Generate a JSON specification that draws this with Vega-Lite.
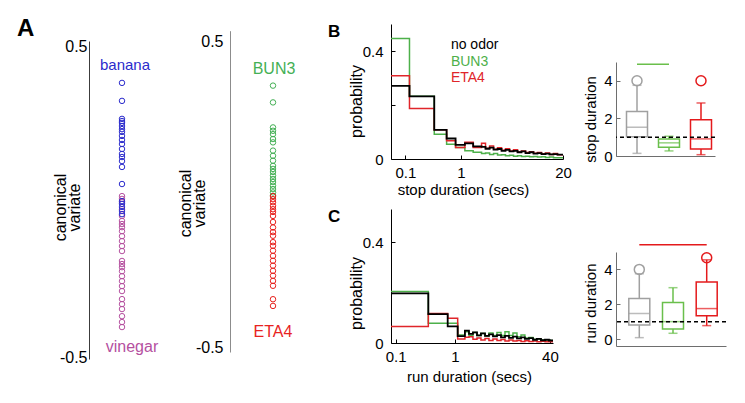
{
  "$schema": "https://vega.github.io/schema/vega-lite/v6.json",
  "background": "white",
  "padding": {"left": 17, "top": 17, "right": 5, "bottom": 5},
  "bounds": "flush",
  "spacing": 75,
  "resolve": {"scale": {"color": "independent", "stroke": "independent"}},
  "config": {
    "view": {"stroke": null},
    "font": "Liberation Sans",
    "axis": {"grid": false, "domainColor": "#000", "tickColor": "#000", "labelColor": "#000", "titleColor": "#000", "titleFontWeight": "normal", "labelFont": "Liberation Sans", "titleFont": "Liberation Sans", "labelFlush": false, "labelOverlap": false, "labelBound": false},
    "title": {"font": "Liberation Sans", "fontWeight": "bold", "color": "#000", "anchor": "start", "frame": "group", "baseline": "alphabetic", "offset": 0}
  },
  "datasets": {
    "bh": [
      {"t": 0.02, "p": 0.446, "odor": "BUN3"}, {"t": 0.129, "p": 0.232, "odor": "BUN3"}, {"t": 0.40, "p": 0.092, "odor": "BUN3"}, {"t": 0.624, "p": 0.055, "odor": "BUN3"}, {"t": 0.843, "p": 0.043, "odor": "BUN3"}, {"t": 1.137, "p": 0.031, "odor": "BUN3"}, {"t": 1.472, "p": 0.025, "odor": "BUN3"}, {"t": 1.90, "p": 0.02, "odor": "BUN3"}, {"t": 2.14, "p": 0.022, "odor": "BUN3"}, {"t": 2.42, "p": 0.017, "odor": "BUN3"}, {"t": 2.72, "p": 0.02, "odor": "BUN3"}, {"t": 3.06, "p": 0.015, "odor": "BUN3"}, {"t": 3.44, "p": 0.016, "odor": "BUN3"}, {"t": 3.86, "p": 0.012, "odor": "BUN3"}, {"t": 4.34, "p": 0.014, "odor": "BUN3"}, {"t": 4.87, "p": 0.01, "odor": "BUN3"}, {"t": 5.47, "p": 0.012, "odor": "BUN3"}, {"t": 6.13, "p": 0.009, "odor": "BUN3"}, {"t": 6.88, "p": 0.01, "odor": "BUN3"}, {"t": 7.72, "p": 0.008, "odor": "BUN3"}, {"t": 8.65, "p": 0.009, "odor": "BUN3"}, {"t": 9.69, "p": 0.007, "odor": "BUN3"}, {"t": 10.86, "p": 0.008, "odor": "BUN3"}, {"t": 12.17, "p": 0.006, "odor": "BUN3"}, {"t": 13.63, "p": 0.007, "odor": "BUN3"}, {"t": 15.27, "p": 0.005, "odor": "BUN3"}, {"t": 17.1, "p": 0.005, "odor": "BUN3"}, {"t": 20, "p": 0.005, "odor": "BUN3"},
      {"t": 0.02, "p": 0.308, "odor": "ETA4"}, {"t": 0.129, "p": 0.187, "odor": "ETA4"}, {"t": 0.40, "p": 0.108, "odor": "ETA4"}, {"t": 0.624, "p": 0.068, "odor": "ETA4"}, {"t": 0.843, "p": 0.043, "odor": "ETA4"}, {"t": 1.137, "p": 0.062, "odor": "ETA4"}, {"t": 1.472, "p": 0.043, "odor": "ETA4"}, {"t": 1.90, "p": 0.058, "odor": "ETA4"}, {"t": 2.14, "p": 0.04, "odor": "ETA4"}, {"t": 2.42, "p": 0.048, "odor": "ETA4"}, {"t": 2.72, "p": 0.036, "odor": "ETA4"}, {"t": 3.06, "p": 0.042, "odor": "ETA4"}, {"t": 3.44, "p": 0.032, "odor": "ETA4"}, {"t": 3.86, "p": 0.038, "odor": "ETA4"}, {"t": 4.34, "p": 0.03, "odor": "ETA4"}, {"t": 4.87, "p": 0.034, "odor": "ETA4"}, {"t": 5.47, "p": 0.026, "odor": "ETA4"}, {"t": 6.13, "p": 0.03, "odor": "ETA4"}, {"t": 6.88, "p": 0.024, "odor": "ETA4"}, {"t": 7.72, "p": 0.027, "odor": "ETA4"}, {"t": 8.65, "p": 0.021, "odor": "ETA4"}, {"t": 9.69, "p": 0.024, "odor": "ETA4"}, {"t": 10.86, "p": 0.019, "odor": "ETA4"}, {"t": 12.17, "p": 0.022, "odor": "ETA4"}, {"t": 13.63, "p": 0.017, "odor": "ETA4"}, {"t": 15.27, "p": 0.02, "odor": "ETA4"}, {"t": 17.1, "p": 0.016, "odor": "ETA4"}, {"t": 20, "p": 0.016, "odor": "ETA4"},
      {"t": 0.02, "p": 0.271, "odor": "no odor"}, {"t": 0.129, "p": 0.232, "odor": "no odor"}, {"t": 0.40, "p": 0.108, "odor": "no odor"}, {"t": 0.624, "p": 0.076, "odor": "no odor"}, {"t": 0.843, "p": 0.052, "odor": "no odor"}, {"t": 1.137, "p": 0.058, "odor": "no odor"}, {"t": 1.472, "p": 0.047, "odor": "no odor"}, {"t": 1.90, "p": 0.045, "odor": "no odor"}, {"t": 2.14, "p": 0.038, "odor": "no odor"}, {"t": 2.42, "p": 0.042, "odor": "no odor"}, {"t": 2.72, "p": 0.035, "odor": "no odor"}, {"t": 3.06, "p": 0.037, "odor": "no odor"}, {"t": 3.44, "p": 0.03, "odor": "no odor"}, {"t": 3.86, "p": 0.034, "odor": "no odor"}, {"t": 4.34, "p": 0.028, "odor": "no odor"}, {"t": 4.87, "p": 0.03, "odor": "no odor"}, {"t": 5.47, "p": 0.025, "odor": "no odor"}, {"t": 6.13, "p": 0.028, "odor": "no odor"}, {"t": 6.88, "p": 0.022, "odor": "no odor"}, {"t": 7.72, "p": 0.025, "odor": "no odor"}, {"t": 8.65, "p": 0.02, "odor": "no odor"}, {"t": 9.69, "p": 0.022, "odor": "no odor"}, {"t": 10.86, "p": 0.018, "odor": "no odor"}, {"t": 12.17, "p": 0.02, "odor": "no odor"}, {"t": 13.63, "p": 0.017, "odor": "no odor"}, {"t": 15.27, "p": 0.018, "odor": "no odor"}, {"t": 17.1, "p": 0.016, "odor": "no odor"}, {"t": 20, "p": 0.016, "odor": "no odor"}
    ],
    "ch": [
      {"t": 0.0833, "p": 0.204, "odor": "BUN3"}, {"t": 0.355, "p": 0.078, "odor": "BUN3"}, {"t": 0.753, "p": 0.078, "odor": "BUN3"}, {"t": 1.11, "p": 0.032, "odor": "BUN3"}, {"t": 1.47, "p": 0.045, "odor": "BUN3"}, {"t": 1.72, "p": 0.03, "odor": "BUN3"}, {"t": 2.01, "p": 0.042, "odor": "BUN3"}, {"t": 2.35, "p": 0.03, "odor": "BUN3"}, {"t": 2.74, "p": 0.038, "odor": "BUN3"}, {"t": 3.21, "p": 0.028, "odor": "BUN3"}, {"t": 3.74, "p": 0.04, "odor": "BUN3"}, {"t": 4.37, "p": 0.03, "odor": "BUN3"}, {"t": 5.11, "p": 0.042, "odor": "BUN3"}, {"t": 5.97, "p": 0.03, "odor": "BUN3"}, {"t": 6.97, "p": 0.045, "odor": "BUN3"}, {"t": 8.14, "p": 0.03, "odor": "BUN3"}, {"t": 9.51, "p": 0.04, "odor": "BUN3"}, {"t": 11.1, "p": 0.025, "odor": "BUN3"}, {"t": 13.0, "p": 0.032, "odor": "BUN3"}, {"t": 15.1, "p": 0.02, "odor": "BUN3"}, {"t": 17.7, "p": 0.022, "odor": "BUN3"}, {"t": 20.7, "p": 0.015, "odor": "BUN3"}, {"t": 24.1, "p": 0.016, "odor": "BUN3"}, {"t": 28.2, "p": 0.012, "odor": "BUN3"}, {"t": 33.0, "p": 0.012, "odor": "BUN3"}, {"t": 38.5, "p": 0.01, "odor": "BUN3"}, {"t": 45, "p": 0.01, "odor": "BUN3"},
      {"t": 0.0833, "p": 0.066, "odor": "ETA4"}, {"t": 0.355, "p": 0.117, "odor": "ETA4"}, {"t": 0.753, "p": 0.098, "odor": "ETA4"}, {"t": 1.11, "p": 0.016, "odor": "ETA4"}, {"t": 1.47, "p": 0.023, "odor": "ETA4"}, {"t": 1.72, "p": 0.025, "odor": "ETA4"}, {"t": 2.01, "p": 0.015, "odor": "ETA4"}, {"t": 2.35, "p": 0.02, "odor": "ETA4"}, {"t": 2.74, "p": 0.012, "odor": "ETA4"}, {"t": 3.21, "p": 0.018, "odor": "ETA4"}, {"t": 3.74, "p": 0.01, "odor": "ETA4"}, {"t": 4.37, "p": 0.016, "odor": "ETA4"}, {"t": 5.11, "p": 0.01, "odor": "ETA4"}, {"t": 5.97, "p": 0.014, "odor": "ETA4"}, {"t": 6.97, "p": 0.008, "odor": "ETA4"}, {"t": 8.14, "p": 0.012, "odor": "ETA4"}, {"t": 9.51, "p": 0.008, "odor": "ETA4"}, {"t": 11.1, "p": 0.01, "odor": "ETA4"}, {"t": 13.0, "p": 0.006, "odor": "ETA4"}, {"t": 15.1, "p": 0.009, "odor": "ETA4"}, {"t": 17.7, "p": 0.006, "odor": "ETA4"}, {"t": 20.7, "p": 0.008, "odor": "ETA4"}, {"t": 24.1, "p": 0.005, "odor": "ETA4"}, {"t": 28.2, "p": 0.007, "odor": "ETA4"}, {"t": 33.0, "p": 0.005, "odor": "ETA4"}, {"t": 38.5, "p": 0.005, "odor": "ETA4"}, {"t": 45, "p": 0.005, "odor": "ETA4"},
      {"t": 0.0833, "p": 0.197, "odor": "no odor"}, {"t": 0.355, "p": 0.115, "odor": "no odor"}, {"t": 0.753, "p": 0.066, "odor": "no odor"}, {"t": 1.11, "p": 0.027, "odor": "no odor"}, {"t": 1.47, "p": 0.049, "odor": "no odor"}, {"t": 1.72, "p": 0.036, "odor": "no odor"}, {"t": 2.01, "p": 0.042, "odor": "no odor"}, {"t": 2.35, "p": 0.03, "odor": "no odor"}, {"t": 2.74, "p": 0.038, "odor": "no odor"}, {"t": 3.21, "p": 0.028, "odor": "no odor"}, {"t": 3.74, "p": 0.034, "odor": "no odor"}, {"t": 4.37, "p": 0.026, "odor": "no odor"}, {"t": 5.11, "p": 0.031, "odor": "no odor"}, {"t": 5.97, "p": 0.022, "odor": "no odor"}, {"t": 6.97, "p": 0.028, "odor": "no odor"}, {"t": 8.14, "p": 0.02, "odor": "no odor"}, {"t": 9.51, "p": 0.025, "odor": "no odor"}, {"t": 11.1, "p": 0.018, "odor": "no odor"}, {"t": 13.0, "p": 0.022, "odor": "no odor"}, {"t": 15.1, "p": 0.016, "odor": "no odor"}, {"t": 17.7, "p": 0.019, "odor": "no odor"}, {"t": 20.7, "p": 0.013, "odor": "no odor"}, {"t": 24.1, "p": 0.016, "odor": "no odor"}, {"t": 28.2, "p": 0.011, "odor": "no odor"}, {"t": 33.0, "p": 0.013, "odor": "no odor"}, {"t": 38.5, "p": 0.01, "odor": "no odor"}, {"t": 45, "p": 0.01, "odor": "no odor"}
    ],
    "bbox": [
      {"odor": "no odor", "lo": 0.14, "q1": 1.03, "med": 1.53, "q3": 2.37, "hi": 3.76},
      {"odor": "BUN3", "lo": 0.27, "q1": 0.47, "med": 0.70, "q3": 0.91, "hi": 1.05},
      {"odor": "ETA4", "lo": 0.07, "q1": 0.37, "med": 0.91, "q3": 1.93, "hi": 2.82}
    ],
    "bout": [{"odor": "no odor", "v": 4.0}, {"odor": "ETA4", "v": 4.0}],
    "cbox": [
      {"odor": "no odor", "lo": 0.08, "q1": 0.80, "med": 1.47, "q3": 2.33, "hi": 3.75},
      {"odor": "BUN3", "lo": 0.33, "q1": 0.57, "med": 1.0, "q3": 2.10, "hi": 2.95},
      {"odor": "ETA4", "lo": 0.77, "q1": 1.34, "med": 1.75, "q3": 3.28, "hi": 4.55}
    ],
    "cout": [{"odor": "no odor", "v": 4.0}, {"odor": "ETA4", "v": 4.67}]
  },
  "hconcat": [
    {
      "width": 66, "height": 335,
      "title": {"text": "A", "fontSize": 24, "dx": -72, "dy": 21},
      "data": {"values": [
        {"v": 0.384, "odor": "banana"}, {"v": 0.326, "odor": "banana"}, {"v": 0.268, "odor": "banana"}, {"v": 0.261, "odor": "banana"}, {"v": 0.255, "odor": "banana"}, {"v": 0.245, "odor": "banana"}, {"v": 0.235, "odor": "banana"}, {"v": 0.226, "odor": "banana"}, {"v": 0.213, "odor": "banana"}, {"v": 0.200, "odor": "banana"}, {"v": 0.187, "odor": "banana"}, {"v": 0.171, "odor": "banana"}, {"v": 0.155, "odor": "banana"}, {"v": 0.145, "odor": "banana"}, {"v": 0.132, "odor": "banana"}, {"v": 0.113, "odor": "banana"}, {"v": 0.058, "odor": "banana"},
        {"v": 0.019, "odor": "vinegar"}, {"v": 0.010, "odor": "vinegar"}, {"v": 0.000, "odor": "vinegar"}, {"v": -0.023, "odor": "vinegar"}, {"v": -0.045, "odor": "vinegar"}, {"v": -0.061, "odor": "vinegar"}, {"v": -0.071, "odor": "vinegar"}, {"v": -0.081, "odor": "vinegar"}, {"v": -0.094, "odor": "vinegar"}, {"v": -0.110, "odor": "vinegar"}, {"v": -0.126, "odor": "vinegar"}, {"v": -0.142, "odor": "vinegar"}, {"v": -0.158, "odor": "vinegar"}, {"v": -0.190, "odor": "vinegar"}, {"v": -0.200, "odor": "vinegar"}, {"v": -0.210, "odor": "vinegar"}, {"v": -0.223, "odor": "vinegar"}, {"v": -0.239, "odor": "vinegar"}, {"v": -0.255, "odor": "vinegar"}, {"v": -0.271, "odor": "vinegar"}, {"v": -0.287, "odor": "vinegar"}, {"v": -0.313, "odor": "vinegar"}, {"v": -0.329, "odor": "vinegar"}, {"v": -0.345, "odor": "vinegar"}, {"v": -0.368, "odor": "vinegar"}, {"v": -0.387, "odor": "vinegar"}, {"v": -0.403, "odor": "vinegar"},
        {"v": 0.003, "odor": "banana"}, {"v": -0.006, "odor": "banana"}, {"v": -0.016, "odor": "banana"}, {"v": -0.029, "odor": "banana"}, {"v": -0.039, "odor": "banana"}
      ]},
      "layer": [
        {
          "mark": {"type": "point", "filled": false, "size": 30, "strokeWidth": 1, "opacity": 1},
          "encoding": {
            "y": {"field": "v", "type": "quantitative", "scale": {"domain": [-0.506, 0.519], "range": [335, 17], "nice": false, "zero": false},
              "axis": {"values": [-0.5, 0.5], "labelExpr": "datum.value < 0 ? '-0.5' : '0.5'", "ticks": false, "domainColor": "#3c3c3c", "labelFontSize": 16, "labelPadding": 2, "title": ["canonical", "variate"], "titleFontSize": 16, "titleLineHeight": 14, "titlePadding": -23, "titleY": 183}},
            "color": {"field": "odor", "type": "nominal", "scale": {"domain": ["banana", "vinegar"], "range": ["#2b2bcc", "#b5509f"]}, "legend": null}
          }
        },
        {"data": {"values": [{"label": "banana"}]}, "mark": {"type": "text", "fontSize": 15, "color": "#2b2bcc", "baseline": "alphabetic", "dx": 3}, "encoding": {"y": {"datum": 0.426}, "text": {"field": "label"}}},
        {"data": {"values": [{"label": "vinegar"}]}, "mark": {"type": "text", "fontSize": 16, "color": "#b5509f", "baseline": "alphabetic", "dx": 10}, "encoding": {"y": {"datum": -0.485}, "text": {"field": "label"}}}
      ]
    },
    {
      "width": 86, "height": 328,
      "data": {"values": [
        {"v": 0.357, "odor": "BUN3"}, {"v": 0.302, "odor": "BUN3"}, {"v": 0.220, "odor": "BUN3"}, {"v": 0.209, "odor": "BUN3"}, {"v": 0.198, "odor": "BUN3"}, {"v": 0.182, "odor": "BUN3"}, {"v": 0.171, "odor": "BUN3"}, {"v": 0.144, "odor": "BUN3"}, {"v": 0.127, "odor": "BUN3"}, {"v": 0.111, "odor": "BUN3"}, {"v": 0.094, "odor": "BUN3"}, {"v": 0.084, "odor": "BUN3"}, {"v": 0.074, "odor": "BUN3"}, {"v": 0.062, "odor": "BUN3"}, {"v": 0.051, "odor": "BUN3"}, {"v": 0.041, "odor": "BUN3"}, {"v": 0.029, "odor": "BUN3"}, {"v": 0.018, "odor": "BUN3"}, {"v": 0.007, "odor": "BUN3"}, {"v": -0.004, "odor": "BUN3"},
        {"v": -0.005, "odor": "ETA4"}, {"v": -0.015, "odor": "ETA4"}, {"v": -0.025, "odor": "ETA4"}, {"v": -0.037, "odor": "ETA4"}, {"v": -0.048, "odor": "ETA4"}, {"v": -0.057, "odor": "ETA4"}, {"v": -0.070, "odor": "ETA4"}, {"v": -0.090, "odor": "ETA4"}, {"v": -0.108, "odor": "ETA4"}, {"v": -0.123, "odor": "ETA4"}, {"v": -0.135, "odor": "ETA4"}, {"v": -0.156, "odor": "ETA4"}, {"v": -0.168, "odor": "ETA4"}, {"v": -0.184, "odor": "ETA4"}, {"v": -0.201, "odor": "ETA4"}, {"v": -0.217, "odor": "ETA4"}, {"v": -0.233, "odor": "ETA4"}, {"v": -0.250, "odor": "ETA4"}, {"v": -0.266, "odor": "ETA4"}, {"v": -0.283, "odor": "ETA4"}, {"v": -0.299, "odor": "ETA4"}, {"v": -0.343, "odor": "ETA4"}, {"v": -0.365, "odor": "ETA4"}
      ]},
      "layer": [
        {
          "mark": {"type": "point", "filled": false, "size": 30, "strokeWidth": 1, "opacity": 1},
          "encoding": {
            "y": {"field": "v", "type": "quantitative", "scale": {"domain": [-0.516, 0.537], "range": [328, 6.7], "nice": false, "zero": false},
              "axis": {"values": [-0.5, 0.5], "labelExpr": "datum.value < 0 ? '-0.5' : '0.5'", "ticks": false, "domainColor": "#8c8c8c", "labelFontSize": 16, "labelPadding": 7, "title": ["canonical", "variate"], "titleFontSize": 16, "titleLineHeight": 14, "titlePadding": -12, "titleY": 179}},
            "color": {"field": "odor", "type": "nominal", "scale": {"domain": ["BUN3", "ETA4"], "range": ["#44b055", "#e8231f"]}, "legend": null}
          }
        },
        {"data": {"values": [{"label": "BUN3"}]}, "mark": {"type": "text", "fontSize": 16, "color": "#44b055", "baseline": "alphabetic", "dx": 1}, "encoding": {"y": {"datum": 0.395}, "text": {"field": "label"}}},
        {"data": {"values": [{"label": "ETA4"}]}, "mark": {"type": "text", "fontSize": 16, "color": "#e8231f", "baseline": "alphabetic", "dx": 0}, "encoding": {"y": {"datum": -0.467}, "text": {"field": "label"}}}
      ]
    },
    {
      "bounds": "flush",
      "columns": 2,
      "spacing": {"row": 50, "column": 53},
      "resolve": {"scale": {"color": "independent", "stroke": "independent"}},
      "concat": [
        {
          "width": 172, "height": 135,
          "title": {"text": "B", "fontSize": 17, "dx": -63, "dy": 21},
          "layer": [
            {"data": {"name": "bh"}, "transform": [{"filter": "datum.odor == 'BUN3'"}], "mark": {"type": "line", "interpolate": "step-after", "color": "#4db04a", "strokeWidth": 1.5},
              "encoding": {
                "x": {"field": "t", "type": "quantitative", "scale": {"type": "symlog", "constant": 0.14, "domain": [0.02, 20], "nice": false, "zero": false},
                  "axis": {"values": [0.1, 1, 20], "format": "~g", "tickSize": -4, "labelPadding": 10, "labelFontSize": 15, "title": "stop duration (secs)", "titleFontSize": 15, "titlePadding": 2, "titleX": 72}},
                "y": {"field": "p", "type": "quantitative", "scale": {"domain": [0, 0.5], "nice": false},
                  "axis": {"values": [0, 0.2, 0.4], "format": "~g", "labelExpr": "datum.value == 0.2 ? '' : datum.label", "tickSize": -4, "labelPadding": 12, "labelFontSize": 15, "title": "probability", "titleFontSize": 16, "titlePadding": -2, "titleY": 77}}
              }},
            {"data": {"name": "bh"}, "transform": [{"filter": "datum.odor == 'ETA4'"}], "mark": {"type": "line", "interpolate": "step-after", "color": "#e0252a", "strokeWidth": 1.5},
              "encoding": {"x": {"field": "t", "type": "quantitative"}, "y": {"field": "p", "type": "quantitative"}}},
            {"data": {"name": "bh"}, "transform": [{"filter": "datum.odor == 'no odor'"}], "mark": {"type": "line", "interpolate": "step-after", "color": "#000000", "strokeWidth": 1.8},
              "encoding": {"x": {"field": "t", "type": "quantitative"}, "y": {"field": "p", "type": "quantitative"}}},
            {"data": {"values": [{"label": "no odor"}]}, "mark": {"type": "text", "fontSize": 14, "color": "#000", "align": "left", "baseline": "alphabetic"}, "encoding": {"x": {"datum": 0.722, "type": "quantitative"}, "y": {"datum": 0.407, "type": "quantitative"}, "text": {"field": "label", "type": "nominal"}}},
            {"data": {"values": [{"label": "BUN3"}]}, "mark": {"type": "text", "fontSize": 14, "color": "#4db04a", "align": "left", "baseline": "alphabetic"}, "encoding": {"x": {"datum": 0.722, "type": "quantitative"}, "y": {"datum": 0.346, "type": "quantitative"}, "text": {"field": "label", "type": "nominal"}}},
            {"data": {"values": [{"label": "ETA4"}]}, "mark": {"type": "text", "fontSize": 14, "color": "#e0252a", "align": "left", "baseline": "alphabetic"}, "encoding": {"x": {"datum": 0.722, "type": "quantitative"}, "y": {"datum": 0.284, "type": "quantitative"}, "text": {"field": "label", "type": "nominal"}}}
          ]
        },
        {
          "width": 99, "height": 132,
          "layer": [
            {"data": {"name": "bbox"}, "mark": {"type": "rule", "strokeWidth": 1.5}, "encoding": {
              "x": {"field": "odor", "type": "nominal", "scale": {"type": "point", "domain": ["no odor", "BUN3", "ETA4"], "padding": 0.547, "align": 0.6}, "axis": {"labels": false, "ticks": false, "title": null, "domainColor": "#6e6e6e"}},
              "y": {"field": "lo", "type": "quantitative", "scale": {"domain": [0, 5], "range": [132, 38], "nice": false}, "axis": {"values": [0, 2, 4], "tickSize": -4, "labelPadding": 8, "labelFontSize": 15, "domainColor": "#6e6e6e", "tickColor": "#6e6e6e", "title": "stop duration", "titleFontSize": 15, "titlePadding": 5, "titleY": 95}},
              "y2": {"field": "q1"},
              "color": {"field": "odor", "type": "nominal", "scale": {"domain": ["no odor", "BUN3", "ETA4"], "range": ["#a0a0a0", "#6abf4b", "#e41a1c"]}, "legend": null}}},
            {"data": {"name": "bbox"}, "mark": {"type": "rule", "strokeWidth": 1.5}, "encoding": {"x": {"field": "odor", "type": "nominal"}, "y": {"field": "q3", "type": "quantitative"}, "y2": {"field": "hi"}, "color": {"field": "odor", "type": "nominal"}}},
            {"data": {"name": "bbox"}, "mark": {"type": "tick", "size": 9, "thickness": 1.5}, "encoding": {"x": {"field": "odor", "type": "nominal"}, "y": {"field": "lo", "type": "quantitative"}, "color": {"field": "odor", "type": "nominal"}}},
            {"data": {"name": "bbox"}, "mark": {"type": "tick", "size": 9, "thickness": 1.5}, "encoding": {"x": {"field": "odor", "type": "nominal"}, "y": {"field": "hi", "type": "quantitative"}, "color": {"field": "odor", "type": "nominal"}}},
            {"data": {"name": "bbox"}, "mark": {"type": "bar", "size": 21, "fill": "white", "strokeWidth": 1.5}, "encoding": {"x": {"field": "odor", "type": "nominal"}, "y": {"field": "q1", "type": "quantitative"}, "y2": {"field": "q3"}, "stroke": {"field": "odor", "type": "nominal", "scale": {"domain": ["no odor", "BUN3", "ETA4"], "range": ["#a0a0a0", "#6abf4b", "#e41a1c"]}, "legend": null}}},
            {"data": {"name": "bbox"}, "mark": {"type": "tick", "size": 21, "thickness": 1.5}, "encoding": {"x": {"field": "odor", "type": "nominal"}, "y": {"field": "med", "type": "quantitative"}, "color": {"field": "odor", "type": "nominal"}}},
            {"data": {"name": "bout"}, "mark": {"type": "point", "filled": false, "size": 100, "strokeWidth": 1.5, "opacity": 1}, "encoding": {"x": {"field": "odor", "type": "nominal"}, "y": {"field": "v", "type": "quantitative"}, "color": {"field": "odor", "type": "nominal"}}},
            {"data": {"values": [{}]}, "mark": {"type": "rule", "color": "#000", "strokeWidth": 1.5, "strokeDash": [4, 3]}, "encoding": {"y": {"datum": 1, "type": "quantitative"}}},
            {"data": {"values": [{}]}, "mark": {"type": "rule", "color": "#6abf4b", "strokeWidth": 1.5}, "encoding": {"x": {"datum": "no odor", "type": "nominal"}, "x2": {"datum": "BUN3"}, "y": {"datum": 4.88, "type": "quantitative"}}}
          ]
        },
        {
          "width": 162, "height": 134,
          "title": {"text": "C", "fontSize": 17, "dx": -63, "dy": 21},
          "layer": [
            {"data": {"name": "ch"}, "transform": [{"filter": "datum.odor == 'BUN3'"}], "mark": {"type": "line", "interpolate": "step-after", "color": "#4db04a", "strokeWidth": 1.5},
              "encoding": {
                "x": {"field": "t", "type": "quantitative", "scale": {"type": "log", "domain": [0.0833, 45], "nice": false},
                  "axis": {"values": [0.1, 1, 40], "format": "~g", "tickSize": -4, "labelPadding": 10, "labelFontSize": 15, "title": "run duration (secs)", "titleFontSize": 15, "titlePadding": 5, "titleX": 78}},
                "y": {"field": "p", "type": "quantitative", "scale": {"domain": [0, 0.532], "nice": false},
                  "axis": {"values": [0, 0.2, 0.4], "format": "~g", "labelExpr": "datum.value == 0.2 ? '' : datum.label", "tickSize": -4, "labelPadding": 12, "labelFontSize": 15, "title": "probability", "titleFontSize": 16, "titlePadding": -2, "titleY": 84}}
              }},
            {"data": {"name": "ch"}, "transform": [{"filter": "datum.odor == 'ETA4'"}], "mark": {"type": "line", "interpolate": "step-after", "color": "#e0252a", "strokeWidth": 1.5},
              "encoding": {"x": {"field": "t", "type": "quantitative"}, "y": {"field": "p", "type": "quantitative"}}},
            {"data": {"name": "ch"}, "transform": [{"filter": "datum.odor == 'no odor'"}], "mark": {"type": "line", "interpolate": "step-after", "color": "#000000", "strokeWidth": 1.8},
              "encoding": {"x": {"field": "t", "type": "quantitative"}, "y": {"field": "p", "type": "quantitative"}}}
          ]
        },
        {
          "width": 110, "height": 137,
          "layer": [
            {"data": {"name": "cbox"}, "mark": {"type": "rule", "strokeWidth": 1.5}, "encoding": {
              "x": {"field": "odor", "type": "nominal", "scale": {"type": "point", "domain": ["no odor", "BUN3", "ETA4"], "padding": 0.632, "align": 0.547}, "axis": {"labels": false, "ticks": false, "title": null, "domainColor": "#6e6e6e"}},
              "y": {"field": "lo", "type": "quantitative", "scale": {"domain": [-0.4, 5], "range": [137, 43], "nice": false, "zero": false}, "axis": {"values": [0, 2, 4], "tickSize": -4, "labelPadding": 8, "labelFontSize": 15, "domainColor": "#6e6e6e", "tickColor": "#6e6e6e", "title": "run duration", "titleFontSize": 15, "titlePadding": 5, "titleY": 94}},
              "y2": {"field": "q1"},
              "color": {"field": "odor", "type": "nominal", "scale": {"domain": ["no odor", "BUN3", "ETA4"], "range": ["#a0a0a0", "#6abf4b", "#e41a1c"]}, "legend": null}}},
            {"data": {"name": "cbox"}, "mark": {"type": "rule", "strokeWidth": 1.5}, "encoding": {"x": {"field": "odor", "type": "nominal"}, "y": {"field": "q3", "type": "quantitative"}, "y2": {"field": "hi"}, "color": {"field": "odor", "type": "nominal"}}},
            {"data": {"name": "cbox"}, "mark": {"type": "tick", "size": 9, "thickness": 1.5}, "encoding": {"x": {"field": "odor", "type": "nominal"}, "y": {"field": "lo", "type": "quantitative"}, "color": {"field": "odor", "type": "nominal"}}},
            {"data": {"name": "cbox"}, "mark": {"type": "tick", "size": 9, "thickness": 1.5}, "encoding": {"x": {"field": "odor", "type": "nominal"}, "y": {"field": "hi", "type": "quantitative"}, "color": {"field": "odor", "type": "nominal"}}},
            {"data": {"name": "cbox"}, "mark": {"type": "bar", "size": 21, "fill": "white", "strokeWidth": 1.5}, "encoding": {"x": {"field": "odor", "type": "nominal"}, "y": {"field": "q1", "type": "quantitative"}, "y2": {"field": "q3"}, "stroke": {"field": "odor", "type": "nominal", "scale": {"domain": ["no odor", "BUN3", "ETA4"], "range": ["#a0a0a0", "#6abf4b", "#e41a1c"]}, "legend": null}}},
            {"data": {"name": "cbox"}, "mark": {"type": "tick", "size": 21, "thickness": 1.5}, "encoding": {"x": {"field": "odor", "type": "nominal"}, "y": {"field": "med", "type": "quantitative"}, "color": {"field": "odor", "type": "nominal"}}},
            {"data": {"name": "cout"}, "mark": {"type": "point", "filled": false, "size": 100, "strokeWidth": 1.5, "opacity": 1}, "encoding": {"x": {"field": "odor", "type": "nominal"}, "y": {"field": "v", "type": "quantitative"}, "color": {"field": "odor", "type": "nominal"}}},
            {"data": {"values": [{}]}, "mark": {"type": "rule", "color": "#000", "strokeWidth": 1.5, "strokeDash": [4, 3]}, "encoding": {"y": {"datum": 1, "type": "quantitative"}}},
            {"data": {"values": [{}]}, "mark": {"type": "rule", "color": "#e41a1c", "strokeWidth": 1.5}, "encoding": {"x": {"datum": "no odor", "type": "nominal"}, "x2": {"datum": "ETA4"}, "y": {"datum": 5.41, "type": "quantitative"}}}
          ]
        }
      ]
    }
  ]
}
